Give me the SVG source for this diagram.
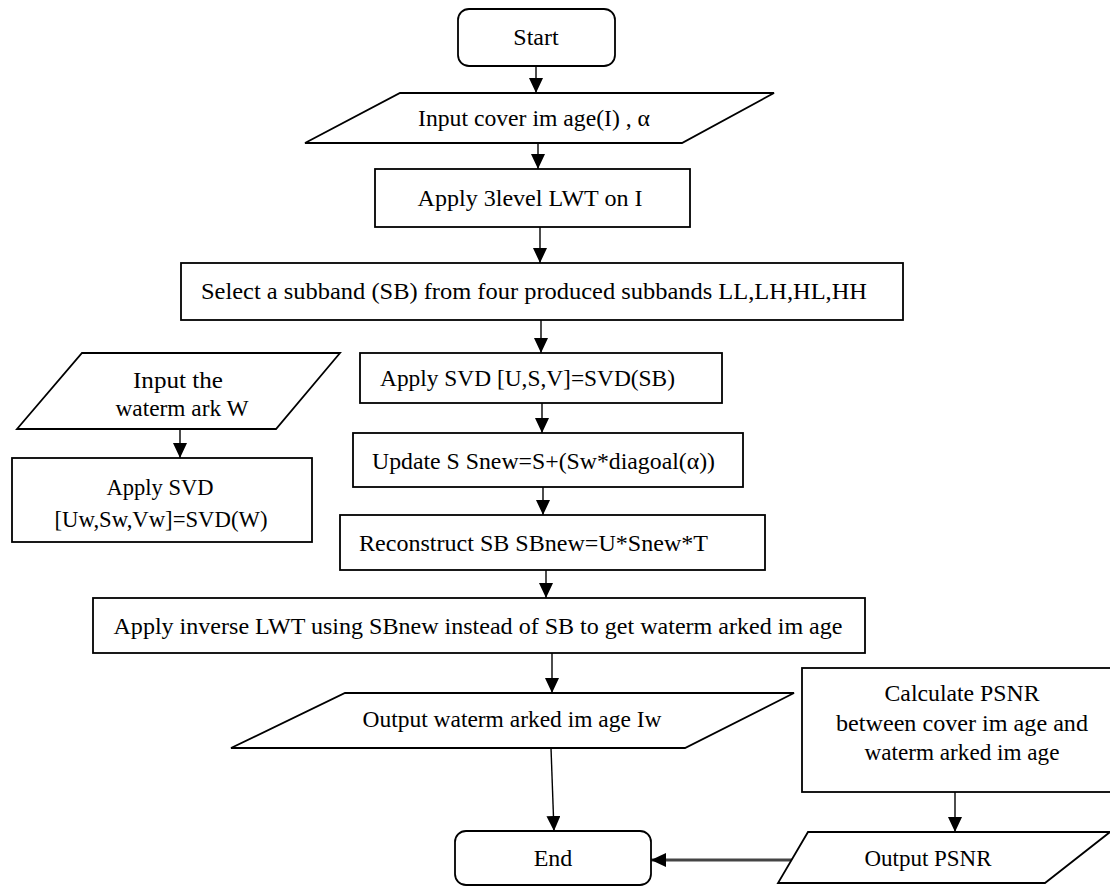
<svg xmlns="http://www.w3.org/2000/svg" width="1110" height="890" viewBox="0 0 1110 890">
<defs>
<style>
.n{fill:#fff;stroke:#000;stroke-width:1.8}
.t{font-family:"Liberation Serif","Times New Roman",serif;font-size:24px;fill:#000}
.m{text-anchor:middle}
.c{fill:none;stroke:#000;stroke-width:1.4}
</style>
<marker id="ah" markerUnits="userSpaceOnUse" markerWidth="15" markerHeight="14" viewBox="0 0 15 14" refX="15" refY="7" orient="auto">
<path d="M0,0 L15,7 L0,14 z" fill="#000"/>
</marker>
</defs>
<rect width="1110" height="890" fill="#fff"/>
<g id="connectors">
<line class="c" x1="536" y1="66" x2="536" y2="93" marker-end="url(#ah)"/>
<line class="c" x1="538" y1="143" x2="538" y2="169" marker-end="url(#ah)"/>
<line class="c" x1="540" y1="227" x2="540" y2="263" marker-end="url(#ah)"/>
<line class="c" x1="541" y1="320" x2="541" y2="353" marker-end="url(#ah)"/>
<line class="c" x1="542" y1="403" x2="542" y2="433" marker-end="url(#ah)"/>
<line class="c" x1="543" y1="487" x2="543" y2="515" marker-end="url(#ah)"/>
<line class="c" x1="546" y1="570" x2="546" y2="598" marker-end="url(#ah)"/>
<line class="c" x1="552" y1="653" x2="552" y2="693" marker-end="url(#ah)"/>
<line class="c" x1="551" y1="748" x2="554" y2="831" marker-end="url(#ah)"/>
<line class="c" x1="180" y1="429" x2="180" y2="458" marker-end="url(#ah)"/>
<line class="c" x1="955" y1="792" x2="955" y2="832" marker-end="url(#ah)"/>
<line x1="798" y1="860" x2="651" y2="860" stroke="#444" stroke-width="2.8" marker-end="url(#ah)"/>
</g>
<g id="start">
<rect class="n" x="458" y="9" width="157" height="57" rx="11"/>
<text class="t m" x="536" y="45">Start</text>
</g>
<g id="input-cover">
<polygon class="n" points="400,93 774,93 682,143 305,143"/>
<text class="t m" x="534" y="126" textLength="232" lengthAdjust="spacingAndGlyphs">Input cover im age(I) , α</text>
</g>
<g id="apply-lwt">
<rect class="n" x="375" y="169" width="315" height="58"/>
<text class="t m" x="530" y="206" textLength="225" lengthAdjust="spacingAndGlyphs">Apply 3level LWT on I</text>
</g>
<g id="select">
<rect class="n" x="181" y="263" width="722" height="57"/>
<text class="t m" x="534" y="299" textLength="666" lengthAdjust="spacingAndGlyphs">Select a subband (SB) from four produced subbands LL,LH,HL,HH</text>
</g>
<g id="apply-svd">
<rect class="n" x="360" y="353" width="362" height="50"/>
<text class="t" x="380" y="386" textLength="295" lengthAdjust="spacingAndGlyphs">Apply SVD  [U,S,V]=SVD(SB)</text>
</g>
<g id="update">
<rect class="n" x="353" y="433" width="390" height="54"/>
<text class="t" x="372" y="469" textLength="343" lengthAdjust="spacingAndGlyphs">Update S Snew=S+(Sw*diagoal(α))</text>
</g>
<g id="reconstruct">
<rect class="n" x="340" y="515" width="425" height="55"/>
<text class="t" x="359" y="551" textLength="349" lengthAdjust="spacingAndGlyphs">Reconstruct SB SBnew=U*Snew*T</text>
</g>
<g id="inverse">
<rect class="n" x="93" y="598" width="772" height="55"/>
<text class="t m" x="478" y="634" textLength="729" lengthAdjust="spacingAndGlyphs">Apply inverse LWT using SBnew instead of SB to get waterm arked im age</text>
</g>
<g id="output-wm">
<polygon class="n" points="345,693 794,693 685,748 231,748"/>
<text class="t m" x="512" y="727" textLength="299" lengthAdjust="spacingAndGlyphs">Output waterm arked im age Iw</text>
</g>
<g id="end">
<rect class="n" x="455" y="831" width="196" height="54" rx="11"/>
<text class="t m" x="553" y="866">End</text>
</g>
<g id="input-watermark">
<polygon class="n" points="82,353 340,353 276,429 17,429"/>
<text class="t m" x="178" y="388" textLength="90" lengthAdjust="spacingAndGlyphs">Input the</text>
<text class="t m" x="182" y="416" textLength="133" lengthAdjust="spacingAndGlyphs">waterm ark W</text>
</g>
<g id="apply-svd-w">
<rect class="n" x="12" y="458" width="300" height="84"/>
<text class="t m" x="160" y="495" textLength="107" lengthAdjust="spacingAndGlyphs">Apply SVD</text>
<text class="t m" x="161" y="527" textLength="213" lengthAdjust="spacingAndGlyphs">[Uw,Sw,Vw]=SVD(W)</text>
</g>
<g id="calculate">
<rect class="n" x="802" y="668" width="312" height="124"/>
<text class="t m" x="962" y="701" textLength="155" lengthAdjust="spacingAndGlyphs">Calculate PSNR</text>
<text class="t m" x="962" y="731" textLength="252" lengthAdjust="spacingAndGlyphs">between cover im age and</text>
<text class="t m" x="962" y="760" textLength="195" lengthAdjust="spacingAndGlyphs">waterm arked im age</text>
</g>
<g id="output-psnr">
<polygon class="n" points="808,832 1110,832 1045,883 778,883"/>
<text class="t m" x="928" y="866" textLength="127" lengthAdjust="spacingAndGlyphs">Output PSNR</text>
</g>
</svg>
